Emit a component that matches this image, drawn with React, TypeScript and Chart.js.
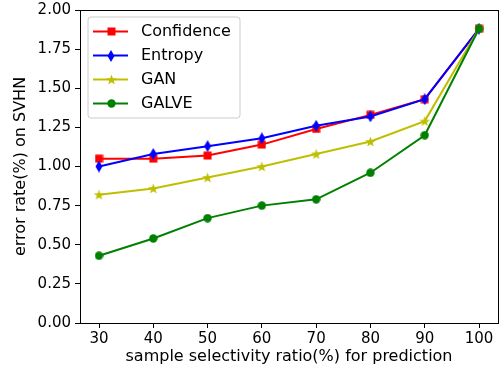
import React, { useEffect, useRef } from "react";
import { Chart, registerables } from "chart.js";

Chart.register(...registerables);

const ratios = [30, 40, 50, 60, 70, 80, 90, 100];
const confidence = [1.05, 1.05, 1.07, 1.14, 1.24, 1.33, 1.43, 1.88];
const entropy = [1.0, 1.08, 1.13, 1.18, 1.26, 1.32, 1.43, 1.88];
const gan = [0.82, 0.86, 0.93, 1.0, 1.08, 1.16, 1.29, 1.88];
const galve = [0.43, 0.54, 0.67, 0.75, 0.79, 0.96, 1.2, 1.88];
const seriesNames = ["Confidence", "Entropy", "GAN", "GALVE"];
const seriesColors = ["#ff0000", "#0000ff", "#bfbf00", "#008000"];
const xTitle = "sample selectivity ratio(%) for prediction";
const yTitle = "error rate(%) on SVHN";
const FONT = "'DejaVu Sans', sans-serif";

function makeMarker(kind: string, color: string): HTMLCanvasElement {
  const c = document.createElement("canvas");
  const size = kind === "diamond" ? [8, 12] : kind === "star" ? [11, 11] : [9, 9];
  c.width = size[0];
  c.height = size[1];
  const g = c.getContext("2d")!;
  g.fillStyle = color;
  const w = c.width, h = c.height;
  g.beginPath();
  if (kind === "square") {
    g.rect(0.5, 0.5, w - 1, h - 1);
  } else if (kind === "circle") {
    g.arc(w / 2, h / 2, w / 2 - 0.3, 0, Math.PI * 2);
  } else if (kind === "diamond") {
    g.moveTo(w / 2, 0);
    g.lineTo(w - 0.5, h / 2);
    g.lineTo(w / 2, h);
    g.lineTo(0.5, h / 2);
    g.closePath();
  } else {
    const cx = w / 2, cy = h / 2 + 0.5, R = w / 2, r = R * 0.42;
    for (let i = 0; i < 10; i++) {
      const a = -Math.PI / 2 + (i * Math.PI) / 5;
      const rr = i % 2 === 0 ? R : r;
      const px = cx + rr * Math.cos(a), py = cy + rr * Math.sin(a);
      if (i === 0) g.moveTo(px, py); else g.lineTo(px, py);
    }
    g.closePath();
  }
  g.fill();
  return c;
}

export default function App() {
  const ref = useRef<HTMLCanvasElement | null>(null);
  useEffect(() => {
    document.body.style.margin = "0";
    const kinds = ["square", "diamond", "star", "circle"];
    const markers = kinds.map((k, i) => makeMarker(k, seriesColors[i]));
    const values = [confidence, entropy, gan, galve];
    const datasets = values.map((vals, i) => ({
      label: seriesNames[i],
      data: ratios.map((x, j) => ({ x, y: vals[j] })),
      borderColor: seriesColors[i],
      backgroundColor: seriesColors[i],
      borderWidth: 2,
      pointStyle: markers[i] as any,
      pointRadius: 5,
      order: 4 - i,
      tension: 0,
    }));

    const framePlugin = {
      id: "frame",
      afterDraw(chart: any) {
        const { ctx, chartArea: a } = chart;
        ctx.save();
        ctx.strokeStyle = "#000";
        ctx.lineWidth = 1;
        ctx.strokeRect(a.left + 0.5, a.top + 0.5, a.right - a.left, a.bottom - a.top);
        // axis titles
        ctx.fillStyle = "#000";
        ctx.font = `16px ${FONT}`;
        ctx.textAlign = "center";
        ctx.textBaseline = "middle";
        ctx.fillText(xTitle, (a.left + a.right) / 2, 357);
        ctx.save();
        ctx.translate(21, (a.top + a.bottom) / 2);
        ctx.rotate(-Math.PI / 2);
        ctx.fillText(yTitle, 0, 0);
        ctx.restore();
        // legend
        const lx = 88, ly = 17, lw = 152, lh = 101;
        ctx.beginPath();
        const r = 3;
        ctx.moveTo(lx + r, ly);
        ctx.arcTo(lx + lw, ly, lx + lw, ly + lh, r);
        ctx.arcTo(lx + lw, ly + lh, lx, ly + lh, r);
        ctx.arcTo(lx, ly + lh, lx, ly, r);
        ctx.arcTo(lx, ly, lx + lw, ly, r);
        ctx.closePath();
        ctx.fillStyle = "rgba(255,255,255,0.8)";
        ctx.fill();
        ctx.strokeStyle = "#cccccc";
        ctx.stroke();
        ctx.font = `16px ${FONT}`;
        ctx.textAlign = "left";
        seriesNames.forEach((name, i) => {
          const y = 31 + i * 24;
          ctx.strokeStyle = seriesColors[i];
          ctx.lineWidth = 2;
          ctx.beginPath();
          ctx.moveTo(93, y + 0.5);
          ctx.lineTo(128, y + 0.5);
          ctx.stroke();
          const m = markers[i];
          ctx.drawImage(m, Math.round(111 - m.width / 2), Math.round(y + 0.5 - m.height / 2));
          ctx.fillStyle = "#000";
          ctx.fillText(name, 141, y + 1);
        });
        ctx.restore();
      },
    };

    const chart = new Chart(ref.current!, {
      type: "line",
      data: { datasets },
      plugins: [framePlugin],
      options: {
        animation: false,
        responsive: false,
        layout: { autoPadding: false, padding: { top: 10, right: 2, left: 0, bottom: 0 } },
        plugins: { legend: { display: false }, tooltip: { enabled: false } },
        scales: {
          x: {
            type: "linear",
            min: 26.5,
            max: 103.5,
            afterFit: (s: any) => { s.height = 48; s.paddingLeft = 0; s.paddingRight = 0; },
            afterBuildTicks: (s: any) => { s.ticks = ratios.map((v) => ({ value: v })); },
            ticks: { color: "#000", font: { family: FONT, size: 15 }, padding: 2, maxRotation: 0 },
            grid: { drawOnChartArea: false, drawTicks: true, tickLength: 5, color: "#000" },
            border: { color: "#000" },
          },
          y: {
            min: 0,
            max: 2,
            afterFit: (s: any) => { s.width = 80; s.paddingTop = 0; s.paddingBottom = 0; },
            ticks: {
              stepSize: 0.25,
              color: "#000",
              font: { family: FONT, size: 15 },
              padding: 4,
              callback: (v: any) => Number(v).toFixed(2),
            },
            grid: { drawOnChartArea: false, drawTicks: true, tickLength: 5, color: "#000" },
            border: { color: "#000" },
          },
        },
      },
    });
    return () => chart.destroy();
  }, []);
  return <canvas ref={ref} width={500} height={371} style={{ display: "block" }} />;
}
